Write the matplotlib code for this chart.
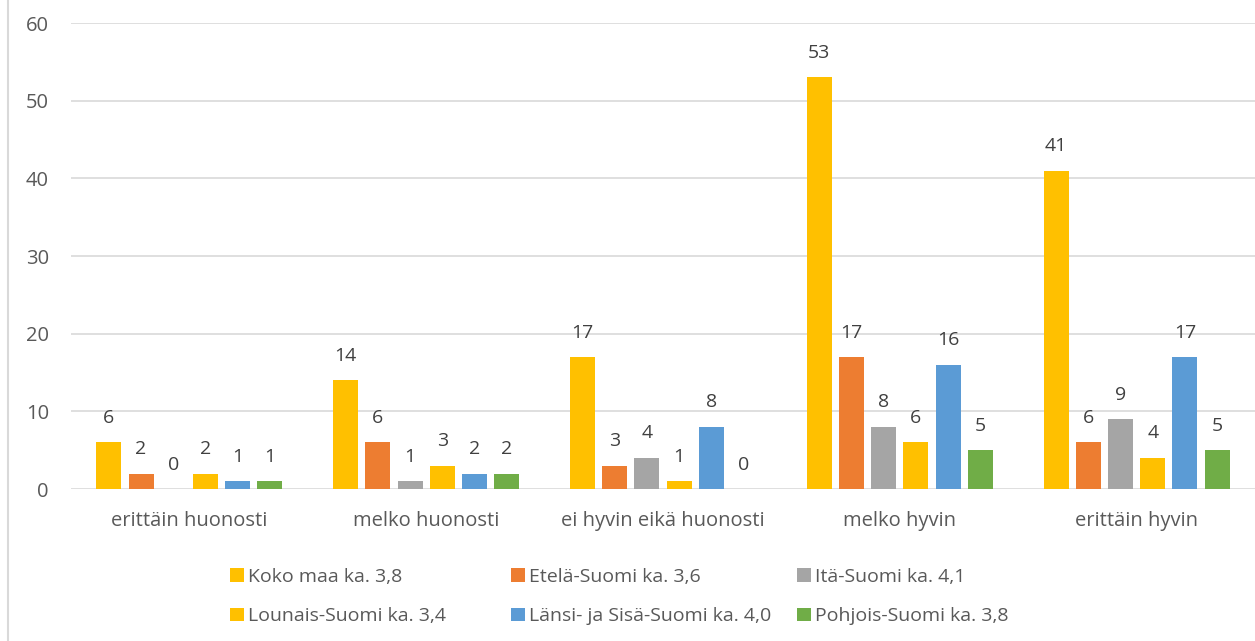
import numpy as np
import matplotlib.pyplot as plt
from matplotlib.lines import Line2D

plt.rcParams['font.family'] = ['Open Sans', 'DejaVu Sans']

categories = ['erittäin huonosti', 'melko huonosti', 'ei hyvin eikä huonosti',
              'melko hyvin', 'erittäin hyvin']
series = ['Koko maa ka. 3,8', 'Etelä-Suomi ka. 3,6', 'Itä-Suomi ka. 4,1',
          'Lounais-Suomi ka. 3,4', 'Länsi- ja Sisä-Suomi ka. 4,0', 'Pohjois-Suomi ka. 3,8']
koko_maa = [6, 14, 17, 53, 41]
etela = [2, 6, 3, 17, 6]
ita = [0, 1, 4, 8, 9]
lounais = [2, 3, 1, 6, 4]
lansi = [1, 2, 8, 16, 17]
pohjois = [1, 2, 0, 5, 5]
values = [koko_maa, etela, ita, lounais, lansi, pohjois]
colors = ['#FFC000', '#ED7D31', '#A5A5A5', '#FFC000', '#5B9BD5', '#70AD47']

fig = plt.figure(figsize=(12.55, 6.41), dpi=100)
ax = fig.add_axes([0.0566, 0.237, 0.9434, 0.727])

x = np.arange(len(categories))
step = 0.136
width = 0.106
bars = []
for i, (vals, c) in enumerate(zip(values, colors)):
    pos = x + (i - 2.5) * step
    b = ax.bar(pos, vals, width, color=c, zorder=3)
    bars.append(b)
    for p, v in zip(pos, vals):
        ax.text(p, v + 2.0, str(v), ha='center', va='bottom', fontsize=14, color='#404040')

ax.set_xlim(-0.5, 4.5)
ax.set_ylim(0, 60)
ax.set_yticks(range(0, 61, 10))
ax.set_xticks(x)
ax.set_xticklabels(categories)
ax.yaxis.grid(True, color='#D9D9D9', linewidth=1.2, zorder=0)
for s in ax.spines.values():
    s.set_visible(False)
ax.tick_params(axis='both', length=0, labelsize=14.5, colors='#595959')
ax.tick_params(axis='x', pad=16)
ax.tick_params(axis='y', pad=16)

# one legend per column so the columns sit at equal spacing
col_x = [0.171, 0.395, 0.623]
for j, xpos in enumerate(col_x):
    idx = [j, j + 3]
    leg = fig.legend([bars[i] for i in idx], [series[i] for i in idx],
                     loc='lower left', bbox_to_anchor=(xpos, 0.0), frameon=False,
                     fontsize=14, labelcolor='#595959', handlelength=0.7,
                     handleheight=0.7, handletextpad=0.2, labelspacing=1.1,
                     borderaxespad=0.4)

fig.add_artist(Line2D([0.0066, 0.0066], [0, 1], color='#D9D9D9', linewidth=1.5))

fig.savefig('out.png', dpi=100)
